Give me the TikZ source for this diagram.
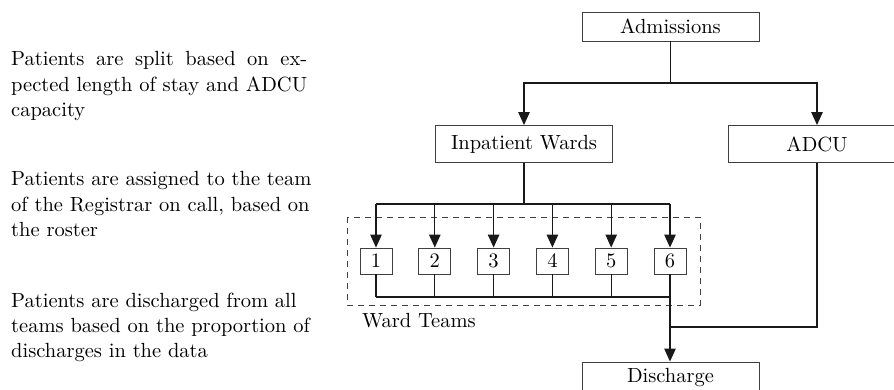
\documentclass[tikz,border=0pt]{standalone}
\usepackage{graphicx}
\usetikzlibrary{arrows.meta}
\newcommand\bigtxt[1]{\scalebox{2.05}{#1}}
\newcommand\notetxt[1]{\scalebox{2.05}{\parbox[t]{160pt}{\fontsize{10}{12.34}\selectfont\raggedright #1}}}
\begin{document}
\begin{tikzpicture}[x=1pt,y=-1pt,
  every node/.style={font=\fontsize{10}{12}\selectfont},
  bigbox/.style={draw=black!75,line width=0.9pt,minimum width=177pt,inner sep=0pt},
  teambox/.style={draw=black!75,line width=0.9pt,minimum width=32pt,minimum height=26pt,inner sep=0pt},
  conn/.style={line width=1.2pt,black!90},
  arr/.style={conn,-{Triangle[width=11.5pt,length=13pt]}},
  note/.style={anchor=base west,inner sep=0pt}]
\useasboundingbox (0,0) rectangle (894,390);
% notes
\node[note] (n1) at (11,66) {\notetxt{\makebox[144.4pt][s]{Patients are split based on ex-}\\pected length of stay and ADCU\\capacity}};
\node[note] (n2) at (11,186) {\notetxt{Patients are assigned to the team\\of the Registrar on call, based on\\the roster}};
\node[note] (n3) at (11,307) {\notetxt{Patients are discharged from all\\teams based on the proportion of\\discharges in the data}};
% boxes
\node[bigbox,minimum height=29pt] (adm) at (670.5,26.5) {\bigtxt{Admissions}};
\node[bigbox,minimum height=37pt] (inp) at (524,144) {\bigtxt{Inpatient Wards}};
\node[bigbox,minimum height=37pt] (adcu) at (817,144) {\bigtxt{ADCU}};
\node[bigbox,minimum height=30pt] (dis) at (670.5,377) {\bigtxt{Discharge}};
\foreach \i in {1,...,6}{
  \node[teambox] (t\i) at ({376+(\i-1)*58.8},261) {\bigtxt{\i}};
}
\draw[black!75,line width=0.9pt,dash pattern=on 6pt off 5pt] (347,217) rectangle (700,305);
\node[anchor=base west,inner sep=0pt] (wt) at (362,327) {\bigtxt{Ward Teams}};
% coordinates
\coordinate (s1) at (670.5,83);
\coordinate (s2) at (524,204);
\coordinate (busy) at (0,297);
\coordinate (jn) at (670,327);
% connectors
\draw[conn] (adm.south) -- (s1);
\draw[arr] (s1) -| (inp.north);
\draw[arr] (s1) -| (adcu.north);
\draw[conn] (inp.south) -- (s2);
\draw[conn] (t1.north |- s2) -- (t6.north |- s2);
\foreach \i in {1,...,6}{
  \draw[arr] (t\i.north |- s2) -- (t\i.north);
  \draw[conn] (t\i.south) -- (t\i.south |- busy);
}
\draw[conn] (t1.south |- busy) -- (t6.south |- busy);
\draw[arr] (t6.south |- busy) -- (t6.south |- dis.north);
\draw[conn] (adcu.south) |- (jn);
\end{tikzpicture}
\end{document}
